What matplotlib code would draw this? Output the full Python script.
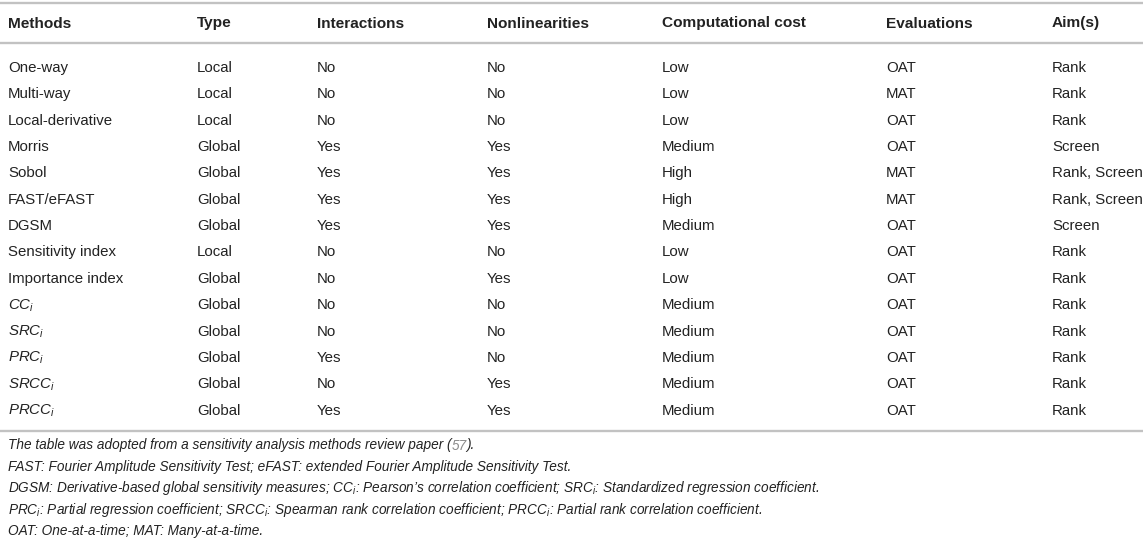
import matplotlib.pyplot as plt

plt.rcParams['font.family'] = ['Liberation Sans', 'DejaVu Sans']
plt.rcParams['mathtext.fontset'] = 'custom'
plt.rcParams['mathtext.rm'] = 'Liberation Sans'
plt.rcParams['mathtext.it'] = 'Liberation Sans:italic'

# table content
headers = ['Methods', 'Type', 'Interactions', 'Nonlinearities',
           'Computational cost', 'Evaluations', 'Aim(s)']

methods = ['One-way', 'Multi-way', 'Local-derivative', 'Morris', 'Sobol',
           'FAST/eFAST', 'DGSM', 'Sensitivity index', 'Importance index',
           'CC$_i$', 'SRC$_i$', 'PRC$_i$', 'SRCC$_i$', 'PRCC$_i$']
italic_rows = [9, 10, 11, 12, 13]
types = ['Local', 'Local', 'Local', 'Global', 'Global', 'Global', 'Global',
         'Local', 'Global', 'Global', 'Global', 'Global', 'Global', 'Global']
interactions = ['No', 'No', 'No', 'Yes', 'Yes', 'Yes', 'Yes',
                'No', 'No', 'No', 'No', 'Yes', 'No', 'Yes']
nonlinearities = ['No', 'No', 'No', 'Yes', 'Yes', 'Yes', 'Yes',
                  'No', 'Yes', 'No', 'No', 'No', 'Yes', 'Yes']
cost = ['Low', 'Low', 'Low', 'Medium', 'High', 'High', 'Medium',
        'Low', 'Low', 'Medium', 'Medium', 'Medium', 'Medium', 'Medium']
evaluations = ['OAT', 'MAT', 'OAT', 'OAT', 'MAT', 'MAT', 'OAT',
               'OAT', 'OAT', 'OAT', 'OAT', 'OAT', 'OAT', 'OAT']
aims = ['Rank', 'Rank', 'Rank', 'Screen', 'Rank, Screen', 'Rank, Screen',
        'Screen', 'Rank', 'Rank', 'Rank', 'Rank', 'Rank', 'Rank', 'Rank']

columns = [methods, types, interactions, nonlinearities, cost, evaluations, aims]

notes = [
    ['The table was adopted from a sensitivity analysis methods review paper (', '57', ').'],
    ['FAST: Fourier Amplitude Sensitivity Test; eFAST: extended Fourier Amplitude Sensitivity Test.'],
    ['DGSM: Derivative-based global sensitivity measures; CC$_i$: Pearson\u2019s correlation coefficient; '
     'SRC$_i$: Standardized regression coefficient.'],
    ['PRC$_i$: Partial regression coefficient; SRCC$_i$: Spearman rank correlation coefficient; '
     'PRCC$_i$: Partial rank correlation coefficient.'],
    ['OAT: One-at-a-time; MAT: Many-at-a-time.'],
]

# layout in pixels from the top (baselines)
W, H = 1143, 539
col_x = [8, 197, 317, 487, 662, 886, 1052]
header_y = 27.5
row_y0 = 72
row_step = 26.35
note_y0 = 449.5
note_step = 21.4
txt = '#222222'
rule = '#c2c2c2'

fig = plt.figure(figsize=(W / 100, H / 100), dpi=100)
ax = fig.add_axes([0, 0, 1, 1])
ax.set_xlim(0, W)
ax.set_ylim(0, H)
ax.axis('off')


def yy(y):
    # top-based pixel -> axes data (bottom-based)
    return H - y


for y in [3, 43, 431]:
    ax.axhline(yy(y), color=rule, linewidth=1.7)

for x, h in zip(col_x, headers):
    ax.text(x, yy(header_y), h, fontsize=11.1, fontweight='bold', color=txt,
            va='baseline', ha='left')

for c, (x, col) in enumerate(zip(col_x, columns)):
    for r, val in enumerate(col):
        style = 'italic' if (c == 0 and r in italic_rows) else 'normal'
        ax.text(x, yy(row_y0 + r * row_step), val, fontsize=10.85, color=txt,
                va='baseline', ha='left', fontstyle=style)

for i, parts in enumerate(notes):
    y = note_y0 + i * note_step
    prev = ax.text(8, yy(y), parts[0], fontsize=9.8, fontstyle='italic',
                   color=txt, va='baseline', ha='left')
    for j, p in enumerate(parts[1:]):
        color = '#8c8c8c' if j == 0 else txt
        prev = ax.annotate(p, xy=(1, 0), xycoords=prev, fontsize=9.8,
                           fontstyle='italic', color=color, va='bottom', ha='left')

fig.savefig('out.png', dpi=100)
